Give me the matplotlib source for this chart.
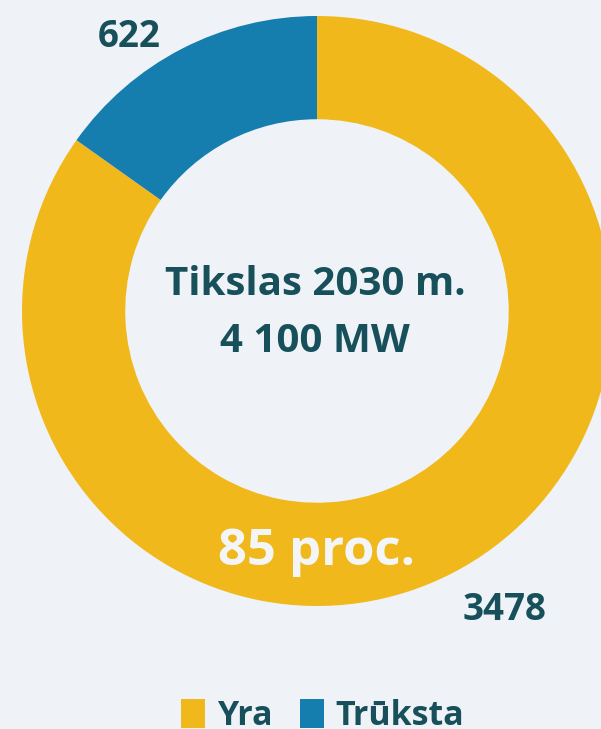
import matplotlib.pyplot as plt

# duomenys
labels = ['Yra', 'Trūksta']
values = [3478, 622]
colors = ['#f0b81b', '#157eaf']
center_lines = ['Tikslas 2030 m.', '4 100 MW']
share_text = '85 proc.'

bg = '#eff3f7'
txt = '#17505a'
plt.rcParams['font.family'] = ['Open Sans', 'DejaVu Sans']

fig = plt.figure(figsize=(6.01, 7.29), dpi=100, facecolor=bg)
ax = fig.add_axes([0, 0, 1, 1])
ax.set_facecolor(bg)

wedges, _ = ax.pie(values, colors=colors, startangle=90, counterclock=False,
                   center=(317, 418), radius=295,
                   wedgeprops=dict(width=295 * 0.35, linewidth=0))
ax.set_xlim(0, 601)
ax.set_ylim(0, 729)
ax.set_aspect('equal')
ax.axis('off')

ax.text(315, 434, center_lines[0], ha='center', va='baseline',
        fontsize=29, fontweight='bold', color=txt)
ax.text(315, 377, center_lines[1], ha='center', va='baseline',
        fontsize=29, fontweight='bold', color=txt)
ax.text(316, 164, share_text, ha='center', va='baseline',
        fontsize=36.5, fontweight='bold', color='#f3f5f7')

ax.text(98, 682, str(values[1]), ha='left', va='baseline',
        fontsize=26.5, fontweight='bold', color=txt)
ax.text(463, 109, str(values[0]), ha='left', va='baseline',
        fontsize=26.5, fontweight='bold', color=txt)

leg = ax.legend(wedges, labels, loc='upper center', bbox_to_anchor=(0.537, 0.083),
                ncol=2, frameon=False, handlelength=0.7, handleheight=0.95,
                handletextpad=0.35, columnspacing=0.8,
                prop=dict(family='Open Sans', weight='bold', size=24.5))
for t in leg.get_texts():
    t.set_color(txt)

fig.savefig('out.png', dpi=100, facecolor=bg)
